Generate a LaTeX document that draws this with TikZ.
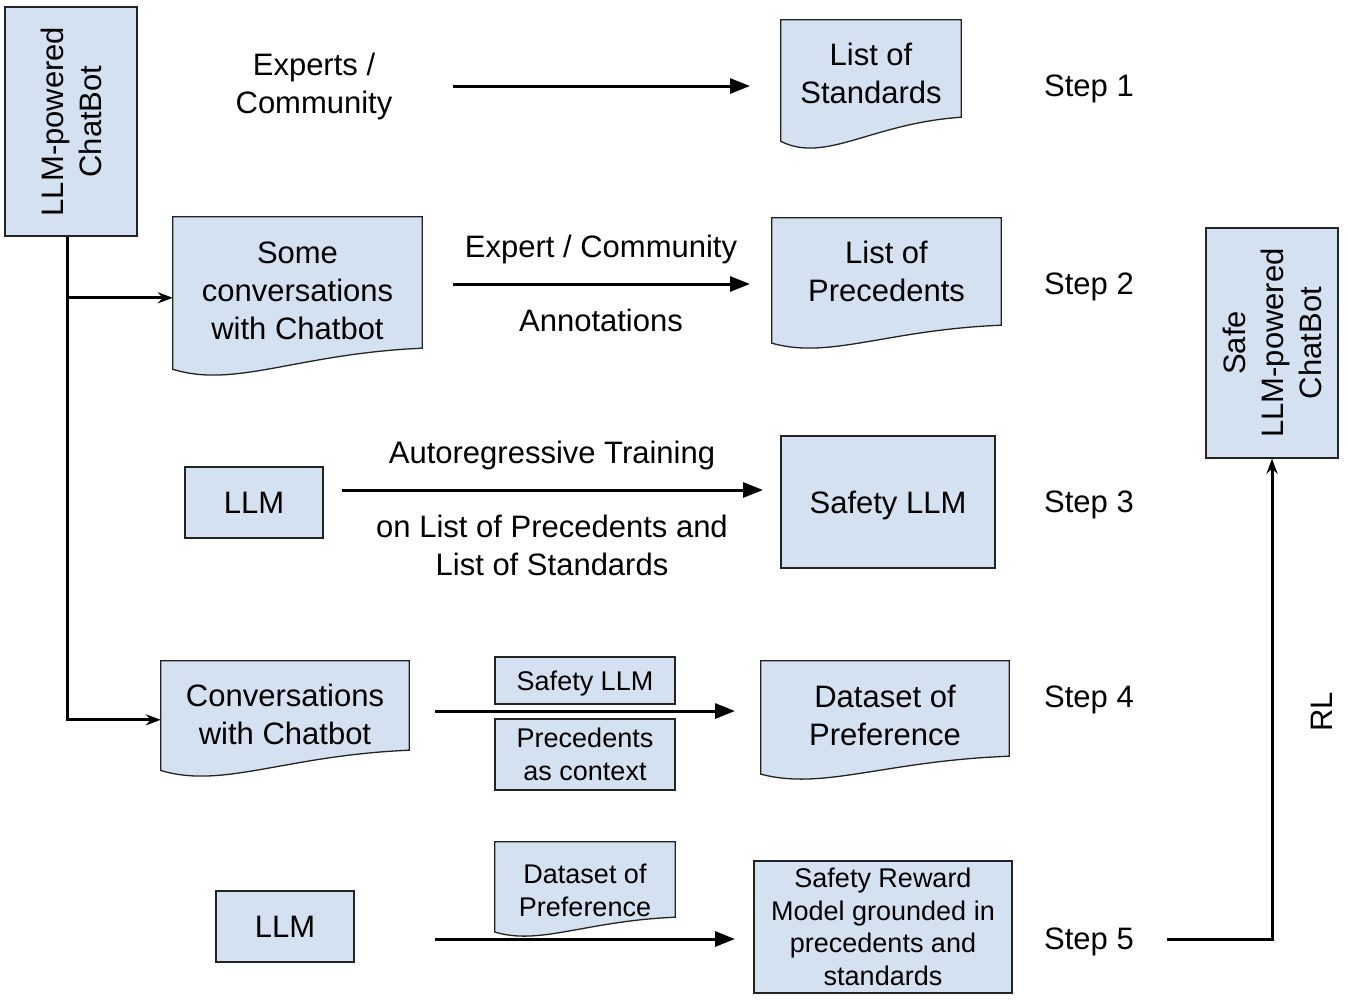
\documentclass[tikz,border=0pt]{standalone}
\usepackage{fontspec}
\setmainfont{Liberation Sans}
\usetikzlibrary{arrows.meta,calc,backgrounds}

\definecolor{boxfill}{RGB}{212,225,241}
\definecolor{boxline}{RGB}{35,35,35}

\newcommand{\bigfont}{\fontsize{31}{38}\selectfont}
\newcommand{\smallfont}{\fontsize{27}{32.5}\selectfont}

% document outline with wavy bottom under node #1:
% right corner #2 below the node's south edge, dip #3
\newcommand{\docwave}[3]{%
  \coordinate (#1-r) at ($(#1.south east)+(0,#2)$);
  \coordinate (#1-l) at ($(#1.south west)+(0,#2)$);
  \begin{scope}[on background layer]
    \draw[docline] (#1.north west) -- (#1.north east) -- (#1-r)
      .. controls ($(#1-r)!0.5!(#1-l)+(0,0.2*#3)$)
      and ($(#1-r)!0.75!(#1-l)+(0,1.5*#3)$)
      .. ($(#1-l)+(0,0.78*#3)$) -- cycle;
  \end{scope}}

\tikzset{
  box/.style={draw=boxline, fill=boxfill, line width=1.3pt, align=center,
    font=\bigfont, inner sep=0pt},
  smallbox/.style={box, font=\smallfont},
  doc/.style={align=center, font=\bigfont, inner sep=0pt},
  docline/.style={draw=boxline, fill=boxfill, line width=1.3pt},
  lbl/.style={align=center, font=\bigfont, inner sep=0pt},
  oneline/.style={text depth=0pt},
  flow/.style={line width=3pt, -{Triangle[length=20pt,width=15pt]}},
  feed/.style={line width=3pt, -{Stealth[length=15pt,width=11pt]}}
}

\begin{document}
\begin{tikzpicture}[x=1pt, y=-1pt]
\useasboundingbox (0,0) rectangle (1348,1002);

% left chatbot and the right result
\node[box, rotate=90, minimum width=229pt, minimum height=132pt] (chatbot) at (71,121.5) {LLM-powered\\ChatBot};
\node[box, rotate=90, minimum width=230pt, minimum height=132pt] (safe) at (1272,343) {Safe\\LLM-powered\\ChatBot};

% Step 1
\node[lbl] (experts) at (314,86) {Experts /\\Community};
\node[doc, minimum width=180pt, minimum height=107pt] (standards) at (871,73.5) {List of\\Standards};
\docwave{standards}{-10}{31}
\node[lbl, oneline] (step1) at (1089,86) {Step 1};

% Step 2
\node[doc, minimum width=249pt, minimum height=147pt] (someconv) at (297.5,290.5) {Some\\conversations\\with Chatbot};
\docwave{someconv}{-16}{27}
\node[doc, minimum width=229pt, minimum height=107pt] (prec) at (886.5,271.5) {List of\\Precedents};
\docwave{prec}{0}{23}
\node[lbl, oneline] (annotop) at (601,246) {Expert / Community};
\node[lbl] (annobot) at (601,320) {Annotations};
\node[lbl, oneline] (step2) at (1089,284) {Step 2};

% Step 3
\node[box, minimum width=138pt, minimum height=71pt] (llmA) at (254,502.5) {LLM};
\node[lbl, oneline] (autoreg) at (552,452) {Autoregressive Training};
\node[lbl] (onlists) at (552,545) {on List of Precedents and\\List of Standards};
\node[box, oneline, minimum width=214pt, minimum height=132pt] (safety) at (888,502) {Safety LLM};
\node[lbl, oneline] (step3) at (1089,502) {Step 3};

% Step 4
\node[doc, minimum width=248pt, minimum height=107pt] (convo) at (285,714.5) {Conversations\\with Chatbot};
\docwave{convo}{-18}{26}
\node[smallbox, oneline, minimum width=180pt, minimum height=47pt] (judge) at (585,680.5) {Safety LLM};
\node[smallbox, minimum width=180pt, minimum height=71pt] (context) at (585,754.5) {Precedents\\as context};
\node[doc, minimum width=248pt, minimum height=109pt] (prefset) at (885,715.5) {Dataset of\\Preference};
\docwave{prefset}{-14}{23}
\node[lbl, oneline] (step4) at (1089,697) {Step 4};
\node[lbl, rotate=90] (rl) at (1322,712) {RL};

% Step 5
\node[box, minimum width=138pt, minimum height=71pt] (llmB) at (285,926.5) {LLM};
\node[doc, font=\smallfont, minimum width=180pt, minimum height=97pt] (prefsmall) at (585,890.5) {Dataset of\\Preference};
\docwave{prefsmall}{-22}{19}
\node[smallbox, minimum width=258pt, minimum height=132pt] (reward) at (883,927) {Safety Reward\\Model grounded in\\precedents and\\standards};
\node[lbl, oneline] (step5) at (1089,939) {Step 5};

% arrow ends
\coordinate (oneA) at (453,86);   \coordinate (oneB) at (750,86);
\coordinate (twoA) at (453,284);  \coordinate (twoB) at (750,284);
\coordinate (threeA) at (342,490); \coordinate (threeB) at (763,490);
\coordinate (fourA) at (435,711); \coordinate (fourB) at (735,711);
\coordinate (fiveA) at (435,939); \coordinate (fiveB) at (735,939);

\draw[flow] (oneA) -- (oneB);
\draw[flow] (twoA) -- (twoB);
\draw[flow] (threeA) -- (threeB);
\draw[flow] (fourA) -- (fourB);
\draw[flow] (fiveA) -- (fiveB);

% trunk from the chatbot
\draw[feed] ($(chatbot.west)+(-4,0)$) |- ($(convo.north west)+(0,59)$);
\draw[feed] ($(chatbot.west)+(-4,0)$) |- ($(someconv.north west)+(0,81)$);

% RL back to the top
\draw[feed] ($(step5.east)+(33,0)$) -| (safe.west);

\end{tikzpicture}
\end{document}
